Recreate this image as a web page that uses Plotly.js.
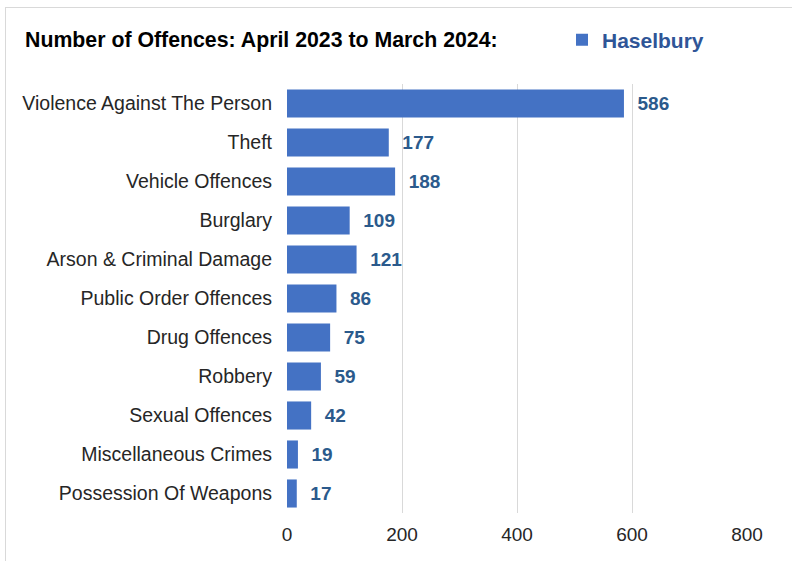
<!DOCTYPE html>
<html><head><meta charset="utf-8">
<script src="https://cdn.plot.ly/plotly-3.0.1.min.js"></script>
<style>
html,body{margin:0;padding:0;background:#fff;}
#wrap{position:relative;width:792px;height:561px;overflow:hidden;}
#frame{position:absolute;left:5px;top:7px;width:900px;height:700px;border-left:1px solid #d9d9d9;border-top:1px solid #d9d9d9;pointer-events:none;}
#chart{position:absolute;left:0;top:0;width:792px;height:561px;}
</style></head>
<body><div id="wrap"><div id="chart"></div><div id="frame"></div></div>
<script>
var categories = ["Violence Against The Person","Theft","Vehicle Offences","Burglary","Arson & Criminal Damage","Public Order Offences","Drug Offences","Robbery","Sexual Offences","Miscellaneous Crimes","Possession Of Weapons"];
var values = [586,177,188,109,121,86,75,59,42,19,17];
var xTicks = [0,200,400,600,800];
var seriesName = "Haselbury";

var trace = {
  type:'bar', orientation:'h',
  y: categories, x: values, name: seriesName,
  marker:{color:'#4472C4'},
  width:0.72,
  text: values.map(String),
  texttemplate:'  %{text}',
  textposition:'outside',
  cliponaxis:false,
  textfont:{family:'Liberation Sans, Arial, sans-serif', size:19, color:'#2B5A8C', weight:'bold'},
  showlegend:true
};
var layout = {
  width:792, height:561,
  margin:{l:287, r:45, t:84, b:48},
  paper_bgcolor:'rgba(0,0,0,0)', plot_bgcolor:'#fff',
  font:{family:'Liberation Sans, Arial, sans-serif', size:19, color:'#262626'},
  title:{text:'<b>Number of Offences: April 2023 to March 2024:</b>', x:25/792, xanchor:'left', y:1-40/561, yanchor:'middle', font:{size:21.3, color:'#000'}},
  xaxis:{range:[0,800], tickvals:xTicks, showgrid:true, gridcolor:'#d9d9d9', gridwidth:1, zeroline:false, showline:false, ticks:'', ticklabelstandoff:8, tickfont:{size:19, color:'#262626'}, fixedrange:true},
  yaxis:{autorange:'reversed', showgrid:false, showline:false, ticks:'', ticklabelstandoff:14, tickfont:{size:19.5, color:'#262626'}, fixedrange:true},
  legend:{orientation:'h', x:562/792, xref:'container', xanchor:'left', y:1-40/561, yref:'container', yanchor:'middle', font:{size:21, color:'#2F5597', weight:'bold'}, itemwidth:30, bgcolor:'rgba(0,0,0,0)'},
  bargap:0.28
};
Plotly.newPlot('chart',[trace],layout,{displayModeBar:false,staticPlot:true});
</script></body></html>
